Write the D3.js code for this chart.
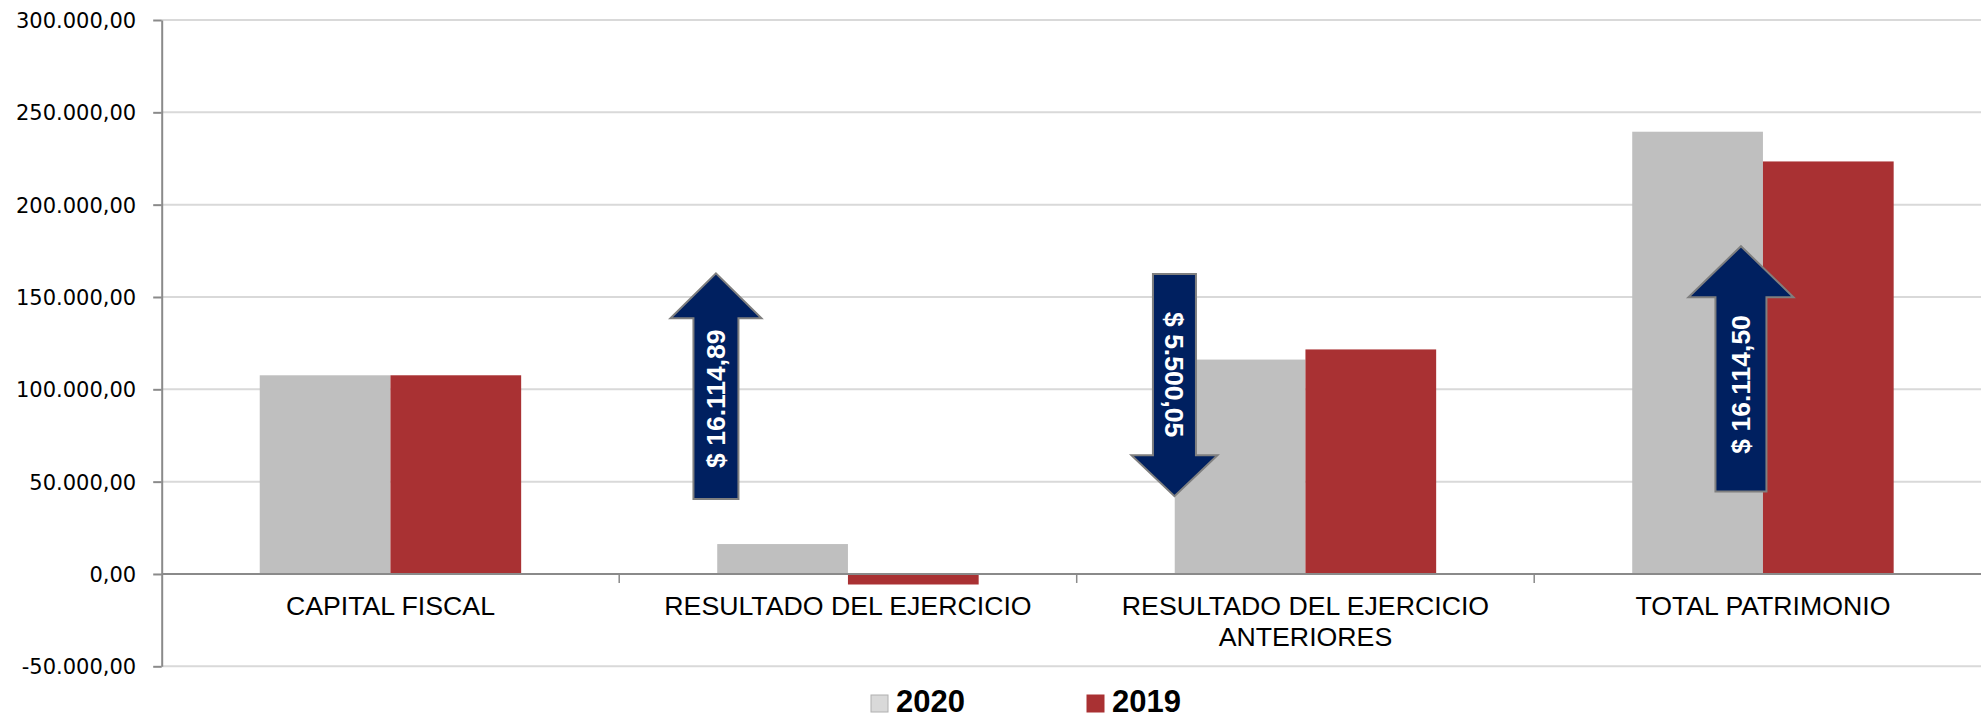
<!DOCTYPE html>
<html>
<head>
<meta charset="utf-8">
<script src="https://cdn.jsdelivr.net/npm/d3@7"></script>
<style>
  html, body { margin: 0; padding: 0; background: #ffffff; }
  svg { display: block; }
</style>
</head>
<body>
<svg id="chart" width="1981" height="719"></svg>
<script>
// ---------- data ----------
const categories = [
  "CAPITAL FISCAL",
  "RESULTADO DEL EJERCICIO",
  "RESULTADO DEL EJERCICIO ANTERIORES",
  "TOTAL PATRIMONIO"
];
const categoryLines = [
  ["CAPITAL FISCAL"],
  ["RESULTADO DEL EJERCICIO"],
  ["RESULTADO DEL EJERCICIO", "ANTERIORES"],
  ["TOTAL PATRIMONIO"]
];
const seriesNames = ["2020", "2019"];
const values2020 = [107600, 16200, 116100, 239500];
const values2019 = [107600, -5700, 121600, 223400];
const yTicks = [-50000, 0, 50000, 100000, 150000, 200000, 250000, 300000];

// change annotations (arrows): category, tail value, tip value, label
const arrowCats   = ["RESULTADO DEL EJERCICIO", "RESULTADO DEL EJERCICIO ANTERIORES", "TOTAL PATRIMONIO"];
const arrowTail   = [40600, 162400, 44600];
const arrowTip    = [162800, 42100, 177500];
const arrowLabels = ["$ 16.114,89", "$ 5.500,05", "$ 16.114,50"];

// ---------- layout / style ----------
const seriesColors = ["#bfbfbf", "#a93133"];
const legendColors = ["#d9d9d9", "#a93133"];
const legendStroke = ["#b0b0b0", "#a93133"];
const arrowShape = [ // offset from category centre, shaft half-width, head half-width, head length
  {dx: -132, sw: 22.5, hw: 45.5, hl: 45},
  {dx: -131, sw: 21.5, hw: 43, hl: 41},
  {dx: -22,  sw: 25.5, hw: 52.5, hl: 51}
];

const svg = d3.select("#chart");
const left = 161.7, band = 457.5;

const x = d3.scaleBand().domain(categories).range([left, left + band * categories.length]).padding(0);
const groupW = x.bandwidth() * 2 / 3.5; // 150% gap width
const xs = d3.scaleBand().domain(seriesNames).range([0, groupW]).padding(0);
const y = d3.scaleLinear().domain([-50000, 300000]).range([666.3, 20]);

const locale = d3.formatLocale({decimal: ",", thousands: ".", grouping: [3], currency: ["$", ""], minus: "-"});
const fmt = locale.format(",.2f");

// gridlines
svg.append("g").selectAll("line").data(yTicks.filter(t => t !== 0)).join("line")
  .attr("x1", left).attr("x2", x.range()[1])
  .attr("y1", d => y(d)).attr("y2", d => y(d))
  .attr("stroke", "#d9d9d9").attr("stroke-width", 2);

// bars
const rows = categories.map((c, i) => ({cat: c, vals: [values2020[i], values2019[i]]}));
const groups = svg.append("g").selectAll("g").data(rows).join("g")
  .attr("transform", d => `translate(${x(d.cat) + (x.bandwidth() - groupW) / 2},0)`);
groups.selectAll("rect").data(d => d.vals.map((v, k) => ({s: seriesNames[k], v, k}))).join("rect")
  .attr("x", d => xs(d.s))
  .attr("width", xs.bandwidth())
  .attr("y", d => y(Math.max(0, d.v)))
  .attr("height", d => Math.abs(y(d.v) - y(0)))
  .attr("fill", d => seriesColors[d.k]);

// x axis (zero line) with boundary ticks
const y0 = y(0);
svg.append("line").attr("x1", left).attr("x2", x.range()[1]).attr("y1", y0).attr("y2", y0)
  .attr("stroke", "#8a8a8a").attr("stroke-width", 2);
svg.append("g").selectAll("line").data(categories.slice(1)).join("line")
  .attr("x1", d => x(d)).attr("x2", d => x(d))
  .attr("y1", y0).attr("y2", y0 + 9)
  .attr("stroke", "#8a8a8a").attr("stroke-width", 1.5);

// category labels
const catG = svg.append("g");
categories.forEach((c, i) => {
  const t = catG.append("text")
    .attr("x", x(c) + x.bandwidth() / 2)
    .attr("y", y0 + 41)
    .attr("text-anchor", "middle")
    .attr("font-family", "Liberation Sans, Arial, sans-serif")
    .attr("font-size", 26.7)
    .attr("fill", "#000");
  categoryLines[i].forEach((ln, j) => {
    t.append("tspan").attr("x", x(c) + x.bandwidth() / 2).attr("dy", j === 0 ? 0 : 31.5).text(ln);
  });
});

// y axis
const yAxis = svg.append("g").attr("transform", `translate(${left},0)`)
  .call(d3.axisLeft(y).tickValues(yTicks).tickSize(8.5).tickPadding(17).tickFormat(fmt).tickSizeOuter(0));
yAxis.select(".domain").attr("stroke", "#8a8a8a").attr("stroke-width", 2);
yAxis.selectAll(".tick line").attr("stroke", "#8a8a8a").attr("stroke-width", 2);
yAxis.selectAll(".tick text")
  .attr("font-family", "DejaVu Sans, Verdana, sans-serif")
  .attr("font-size", 21).attr("fill", "#000").attr("dy", "0.36em");

// arrows
const arrowG = svg.append("g");
arrowCats.forEach((c, i) => {
  const s = arrowShape[i];
  const cx = x(c) + x.bandwidth() / 2 + s.dx;
  const yt = y(arrowTail[i]), yp = y(arrowTip[i]);
  const dir = yp < yt ? 1 : -1;       // 1 = pointing up
  const yb = yp + dir * s.hl;
  const path = d3.path();
  path.moveTo(cx - s.sw, yt);
  path.lineTo(cx - s.sw, yb);
  path.lineTo(cx - s.hw, yb);
  path.lineTo(cx, yp);
  path.lineTo(cx + s.hw, yb);
  path.lineTo(cx + s.sw, yb);
  path.lineTo(cx + s.sw, yt);
  path.closePath();
  arrowG.append("path").attr("d", path.toString())
    .attr("fill", "#002060").attr("stroke", "#7f7f7f").attr("stroke-width", 2)
    .attr("stroke-linejoin", "miter");
  const ty = (yt + yb) / 2 - dir * 10;
  arrowG.append("text")
    .attr("transform", `translate(${cx},${ty}) rotate(${dir === 1 ? -90 : 90})`)
    .attr("text-anchor", "middle").attr("dy", "0.36em")
    .attr("font-family", "Liberation Sans, Arial, sans-serif")
    .attr("font-weight", "bold").attr("font-size", 26.5)
    .attr("fill", "#ffffff")
    .text(arrowLabels[i]);
});

// legend
const legendX = [871, 1087];
const leg = svg.append("g");
seriesNames.forEach((s, k) => {
  leg.append("rect").attr("x", legendX[k]).attr("y", 695).attr("width", 17).attr("height", 17)
    .attr("fill", legendColors[k]).attr("stroke", legendStroke[k]).attr("stroke-width", 1);
  leg.append("text").attr("x", legendX[k] + 25).attr("y", 712)
    .attr("font-family", "Liberation Sans, Arial, sans-serif")
    .attr("font-weight", "bold").attr("font-size", 31).attr("fill", "#000")
    .text(s);
});
</script>
</body>
</html>
